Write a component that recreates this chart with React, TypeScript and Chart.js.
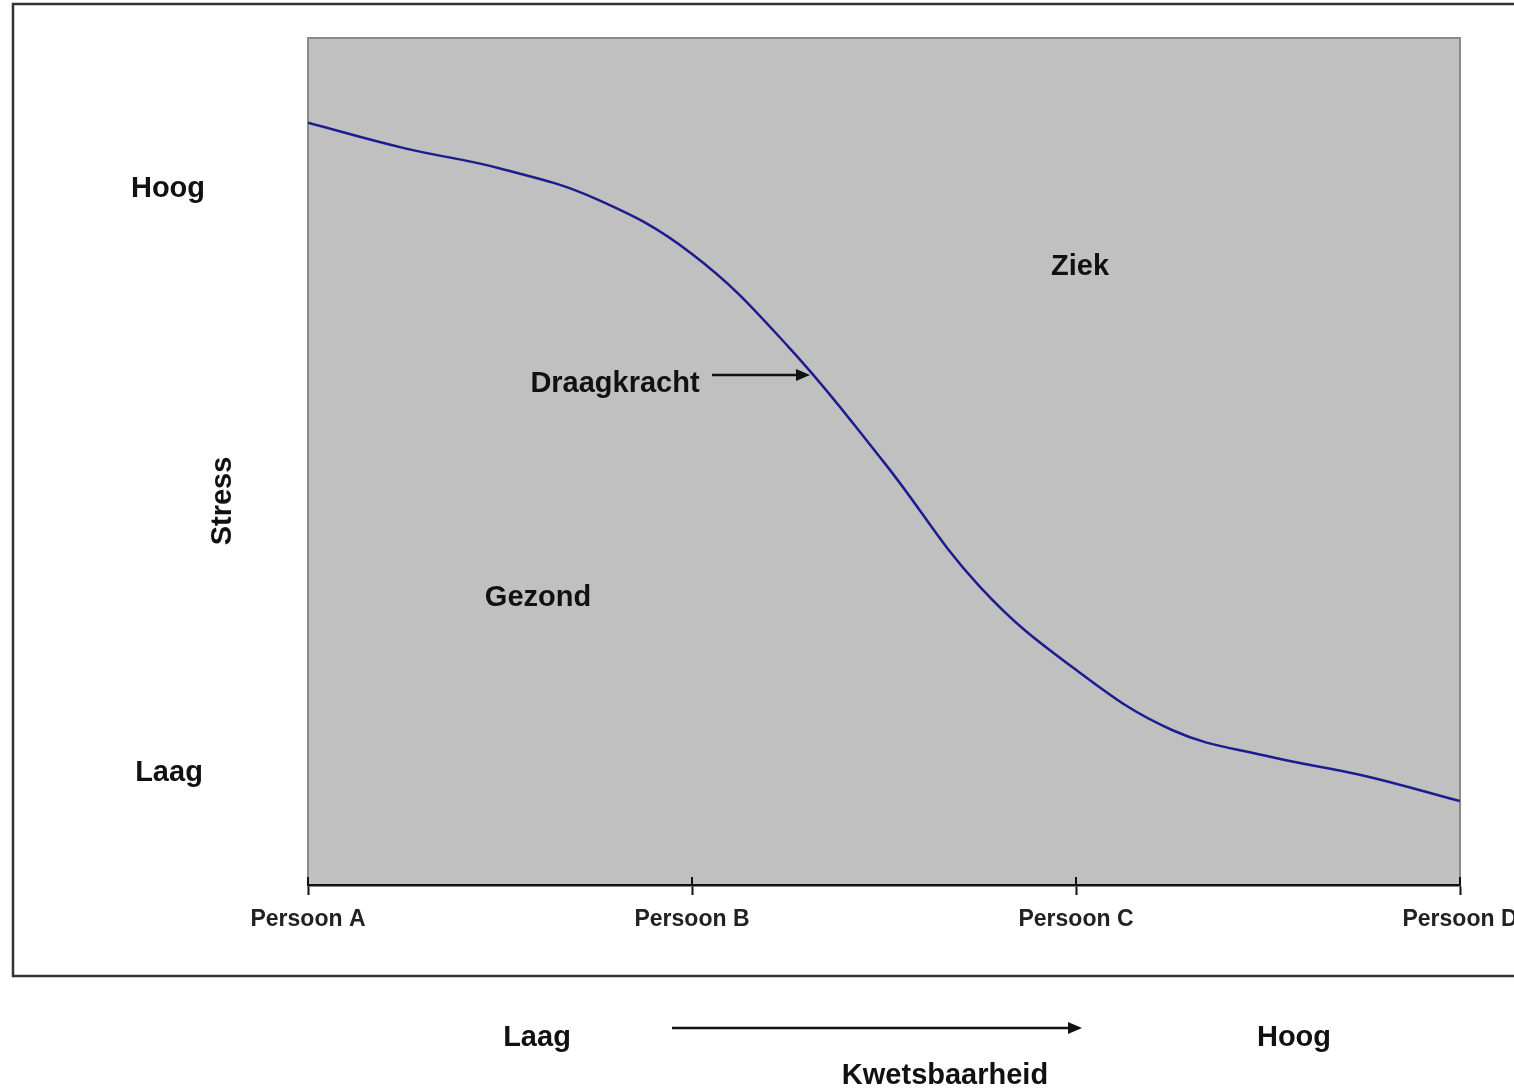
import React, { useEffect, useRef } from "react";
import { Chart, registerables } from "chart.js";

Chart.register(...registerables);

// ---- data ----
const xLabels = ["Persoon A", "Persoon B", "Persoon C", "Persoon D"];
const kwetsbaarheid = [0, 0.25, 0.5, 0.75, 1.0, 1.25, 1.5, 1.75, 2.0, 2.25, 2.5, 2.75, 3.0];
const draagkracht = [90.0, 87.0, 84.6, 81.0, 74.5, 63.6, 49.9, 35.2, 25.4, 18.3, 15.2, 12.9, 9.9];
const stressLabels = ["Hoog", "Laag"];
const regionLabels = ["Ziek", "Gezond"];
const curveLabel = "Draagkracht";
const yTitle = "Stress";
const xTitle = "Kwetsbaarheid";
const xEndLabels = ["Laag", "Hoog"];

const FONT = '"Liberation Sans", Arial, sans-serif';

function arrow(ctx: CanvasRenderingContext2D, x1: number, x2: number, y: number) {
  ctx.save();
  ctx.strokeStyle = "#111";
  ctx.fillStyle = "#111";
  ctx.lineWidth = 2.5;
  ctx.beginPath();
  ctx.moveTo(x1, y);
  ctx.lineTo(x2 - 10, y);
  ctx.stroke();
  ctx.beginPath();
  ctx.moveTo(x2, y);
  ctx.lineTo(x2 - 14, y - 6);
  ctx.lineTo(x2 - 14, y + 6);
  ctx.closePath();
  ctx.fill();
  ctx.restore();
}

const decorPlugin = {
  id: "decor",
  beforeDraw(chart: any) {
    const { ctx, chartArea } = chart;
    ctx.save();
    ctx.fillStyle = "#ffffff";
    ctx.fillRect(0, 0, chart.width, chart.height);
    // outer frame
    ctx.strokeStyle = "#333333";
    ctx.lineWidth = 2.5;
    ctx.strokeRect(13, 4, 1700, 972);
    // plot area
    ctx.fillStyle = "#c0c0c0";
    ctx.fillRect(chartArea.left, chartArea.top, chartArea.right - chartArea.left, chartArea.bottom - chartArea.top);
    ctx.strokeStyle = "#8a8a8a";
    ctx.lineWidth = 2;
    ctx.strokeRect(chartArea.left, chartArea.top, chartArea.right - chartArea.left, chartArea.bottom - chartArea.top);
    ctx.restore();
  },
  afterDraw(chart: any) {
    const { ctx, chartArea } = chart;
    const xs = chart.scales.x;
    ctx.save();
    // inner part of the crossing tick marks
    ctx.strokeStyle = "#111";
    ctx.lineWidth = 2;
    xs.ticks.forEach((t: any) => {
      const px = Math.round(xs.getPixelForValue(t.value));
      ctx.beginPath();
      ctx.moveTo(px, chartArea.bottom - 8);
      ctx.lineTo(px, chartArea.bottom);
      ctx.stroke();
    });
    ctx.fillStyle = "#111";
    ctx.textAlign = "center";
    ctx.textBaseline = "alphabetic";
    ctx.font = `bold 29px ${FONT}`;
    // stress level labels
    ctx.fillText(stressLabels[0], 168, 197);
    ctx.fillText(stressLabels[1], 169, 781);
    // regions
    ctx.fillText(regionLabels[0], 1080, 275);
    ctx.fillText(regionLabels[1], 538, 606);
    // curve label + arrow to the curve
    ctx.fillText(curveLabel, 615, 392);
    arrow(ctx, 712, 810, 375);
    // x description
    ctx.fillText(xEndLabels[0], 537, 1046);
    ctx.fillText(xEndLabels[1], 1294, 1046);
    ctx.fillText(xTitle, 945, 1084);
    arrow(ctx, 672, 1082, 1028);
    // y title
    ctx.save();
    ctx.translate(223, 501);
    ctx.rotate(-Math.PI / 2);
    ctx.textBaseline = "middle";
    ctx.fillText(yTitle, 0, 0);
    ctx.restore();
    ctx.restore();
  },
};

export default function App() {
  const ref = useRef<HTMLCanvasElement | null>(null);
  useEffect(() => {
    if (!ref.current) return;
    const chart = new Chart(ref.current, {
      type: "line",
      data: {
        datasets: [
          {
            label: curveLabel,
            data: kwetsbaarheid.map((x, i) => ({ x, y: draagkracht[i] })),
            borderColor: "#1c1c8e",
            borderWidth: 2.5,
            pointRadius: 0,
            fill: false,
            tension: 0.4,
          },
        ],
      },
      options: {
        responsive: false,
        animation: false,
        devicePixelRatio: 1,
        layout: { padding: { top: 38, left: 308, right: 140, bottom: 0 } },
        plugins: { legend: { display: false }, tooltip: { enabled: false } },
        scales: {
          x: {
            type: "linear",
            min: 0,
            max: 3,
            afterFit: (s: any) => {
              s.height = 204;
            },
            grid: {
              drawOnChartArea: false,
              drawTicks: true,
              tickLength: 10,
              tickColor: "#111",
              tickWidth: 2,
            },
            border: { display: true, color: "#111", width: 2.5 },
            ticks: {
              stepSize: 1,
              autoSkip: false,
              maxRotation: 0,
              padding: 11,
              color: "#222",
              font: { family: FONT, size: 23, weight: "bold" },
              callback: (v: any) => xLabels[Math.round(Number(v))] ?? "",
            },
          },
          y: { type: "linear", min: 0, max: 100, display: false },
        },
      },
      plugins: [decorPlugin],
    } as any);
    return () => chart.destroy();
  }, []);
  return (
    <div style={{ position: "fixed", left: 0, top: 0, width: 1514, height: 1089, overflow: "hidden", background: "#fff" }}>
      <canvas ref={ref} width={1600} height={1089} style={{ width: 1600, height: 1089, display: "block" }} />
    </div>
  );
}
